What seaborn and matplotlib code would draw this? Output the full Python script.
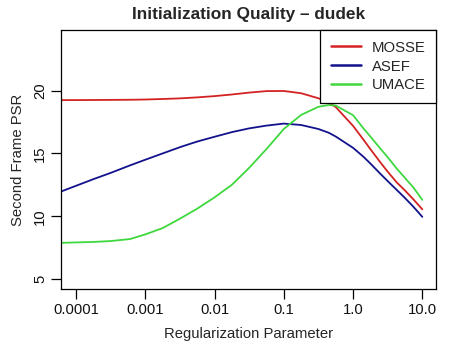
import numpy as np
import pandas as pd
import matplotlib
matplotlib.use("Agg")
import matplotlib.pyplot as plt
import seaborn as sns

# log10 of the regularization parameter where values were read
log_reg = [-4.2, -3.75, -3.5, -3.22, -3.0, -2.75, -2.5, -2.25, -2.0, -1.75, -1.5, -1.25, -1.0,
           -0.75, -0.5, -0.35, -0.25, 0.0, 0.15, 0.25, 0.4, 0.5, 0.63, 0.75, 0.87, 1.0]

mosse = [19.25, 19.26, 19.27, 19.28, 19.3, 19.34, 19.39, 19.47, 19.57, 19.7, 19.85, 19.97, 19.98,
         19.8, 19.4, 19.05, 18.7, 17.2, 16.1, 15.35, 14.25, 13.55, 12.7, 12.05, 11.35, 10.55]
asef = [12.0, 12.95, 13.45, 14.05, 14.5, 15.0, 15.5, 15.95, 16.33, 16.7, 17.0, 17.22, 17.38,
        17.27, 16.95, 16.65, 16.35, 15.45, 14.74, 14.2, 13.35, 12.8, 12.1, 11.45, 10.76, 9.95]
umace = [7.88, 7.95, 8.02, 8.18, 8.55, 9.05, 9.8, 10.6, 11.5, 12.5, 13.85, 15.35, 16.95,
         18.07, 18.72, 18.86, 18.82, 18.05, 17.0, 16.35, 15.35, 14.7, 13.8, 13.05, 12.3, 11.3]

series = ["MOSSE", "ASEF", "UMACE"]
colors = ["#D42222", "#12128C", "#3ED83E"]

x_ticks = [1e-4, 1e-3, 1e-2, 1e-1, 1.0, 10.0]
x_labels = ["0.0001", "0.001", "0.01", "0.1", "1.0", "10.0"]
y_ticks = [5, 10, 15, 20]

reg = [10 ** v for v in log_reg]
df = pd.concat([
    pd.DataFrame({"reg": reg, "psr": vals, "method": name})
    for name, vals in zip(series, [mosse, asef, umace])
])

sns.set_style("white")
plt.rcParams["font.family"] = ["Liberation Sans", "DejaVu Sans"]

fig = plt.figure(figsize=(4.64, 3.57), dpi=100)
ax = fig.add_axes([0.1315, 0.1905, 0.8088, 0.7255])

sns.lineplot(data=df, x="reg", y="psr", hue="method", hue_order=series,
             palette=colors, linewidth=1.3, ax=ax, sort=False, legend=True)

ax.set_xscale("log")
ax.set_xlim(10 ** -4.216, 10 ** 1.202)
ax.set_ylim(4.2, 24.84)
ax.set_xticks(x_ticks)
ax.set_xticklabels(x_labels)
ax.minorticks_off()
ax.set_yticks(y_ticks)
ax.set_yticklabels([str(t) for t in y_ticks], rotation=90, va="center")
ax.tick_params(axis="both", direction="out", length=7, width=0.9, labelsize=10.7,
               color="black", labelcolor="#111111", left=True, bottom=True, pad=3)

for sp in ax.spines.values():
    sp.set_color("black")
    sp.set_linewidth(0.9)

ax.set_xlabel("Regularization Parameter", fontsize=10.7, labelpad=7)
ax.set_ylabel("Second Frame PSR", fontsize=10.7, labelpad=5.5)
ax.set_title("Initialization Quality \u2013 dudek", fontsize=12.4,
             fontweight="bold", pad=8)

handles, labels = ax.get_legend_handles_labels()
leg = ax.legend(handles, labels, loc="upper right", borderaxespad=0,
                fancybox=False, framealpha=1, edgecolor="black",
                fontsize=10.7, handlelength=2.0, labelspacing=0.33,
                handletextpad=0.75, borderpad=0.72)
leg.get_frame().set_linewidth(0.9)
for line in leg.get_lines():
    line.set_linewidth(1.8)

fig.savefig("out.png", dpi=100)
